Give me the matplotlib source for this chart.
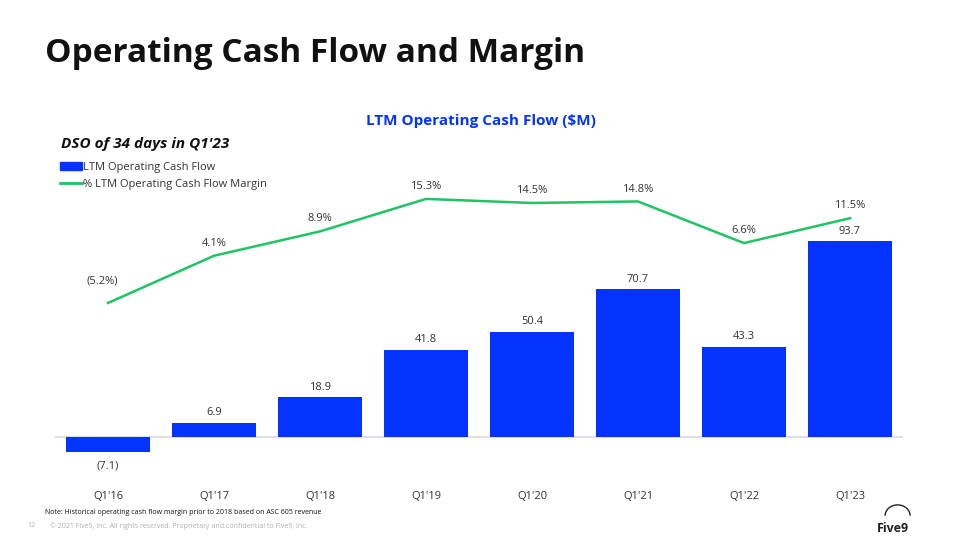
import matplotlib.pyplot as plt
import numpy as np
from matplotlib.lines import Line2D
from matplotlib.patches import Patch, Arc

plt.rcParams['font.family'] = ['Open Sans', 'DejaVu Sans']

quarters = ["Q1'16", "Q1'17", "Q1'18", "Q1'19", "Q1'20", "Q1'21", "Q1'22", "Q1'23"]
cash_flow = [-7.1, 6.9, 18.9, 41.8, 50.4, 70.7, 43.3, 93.7]
margin = [-5.2, 4.1, 8.9, 15.3, 14.5, 14.8, 6.6, 11.5]

BLUE = '#0433FF'
GREEN = '#1FC464'
TXT = '#333333'

fig = plt.figure(figsize=(9.6, 5.4), dpi=100)
ax = fig.add_axes([0.0573, 0.1296, 0.8833, 0.6111])
ax2 = ax.twinx()

X = np.arange(len(quarters))
bars = ax.bar(X, cash_flow, width=0.79, color=BLUE, zorder=2)
ax.axhline(0, color='#d9d9e3', lw=1.2, zorder=1)
ax.set_xlim(-0.5, 7.5)
ax.set_ylim(-15.8, 142.1)
ax2.set_ylim(-38.1, 26.9)

for x, v in zip(X, cash_flow):
    lbl = f"({abs(v):.1f})" if v < 0 else f"{v:.1f}"
    if v < 0:
        ax.annotate(lbl, (x, v), xytext=(0, -6), textcoords='offset points',
                    ha='center', va='top', fontsize=8, color=TXT)
    else:
        ax.annotate(lbl, (x, v), xytext=(0, 3), textcoords='offset points',
                    ha='center', va='bottom', fontsize=8, color=TXT)

ax2.plot(X, margin, color=GREEN, lw=1.8, zorder=3)
for x, m in zip(X, margin):
    lbl = f"({abs(m):.1f}%)" if m < 0 else f"{m:.1f}%"
    off = 12 if m < 0 else 5
    dx = -4 if m < 0 else 0
    ax2.annotate(lbl, (x, m), xytext=(dx, off), textcoords='offset points',
                 ha='center', va='bottom', fontsize=8, color=TXT)

ax.set_xticks(X, quarters)
ax.tick_params(axis='x', length=0, labelsize=8, labelcolor=TXT, pad=15)
ax.set_yticks([])
ax2.set_yticks([])
for a in (ax, ax2):
    for s in a.spines.values():
        s.set_visible(False)

# titles
fig.text(0.047, 0.900, "Operating Cash Flow and Margin", fontsize=24, fontweight='bold',
         color='#111111', va='center', ha='left')
fig.text(0.501, 0.775, "LTM Operating Cash Flow ($M)", fontsize=11, fontweight='bold',
         color=BLUE, ha='center', va='center')
fig.text(0.064, 0.733, "DSO of 34 days in Q1'23", fontsize=11, fontweight='bold',
         style='italic', color='#111111', ha='left', va='center')

handles = [Patch(color=BLUE), Line2D([0], [0], color=GREEN, lw=2)]
fig.legend(handles, ["LTM Operating Cash Flow", "% LTM Operating Cash Flow Margin"],
           loc='upper left', bbox_to_anchor=(0.062, 0.700), frameon=False, fontsize=8,
           handlelength=2.0, handletextpad=0.1, labelspacing=0.55, borderaxespad=0,
           borderpad=0, labelcolor=TXT)

# footer
fig.text(0.047, 0.050, "Note: Historical operating cash flow margin prior to 2018 based on ASC 605 revenue",
         fontsize=5, color='#111111', va='center')
fig.text(0.029, 0.026, "12", fontsize=5, color='#b0b0b0', va='center')
fig.text(0.052, 0.026, "\u00a9 2021 Five9, Inc. All rights reserved. Proprietary and confidential to Five9, Inc.",
         fontsize=5, color='#b0b0b0', va='center')
fig.text(0.93, 0.022, "Five9", fontsize=9, fontweight='bold', color='#222222',
         ha='center', va='center')
fig.patches.append(Arc((0.935, 0.045), 0.026, 0.04, theta1=0, theta2=180,
                       transform=fig.transFigure, color='#222222', lw=1))

fig.savefig('out.png', dpi=100)
